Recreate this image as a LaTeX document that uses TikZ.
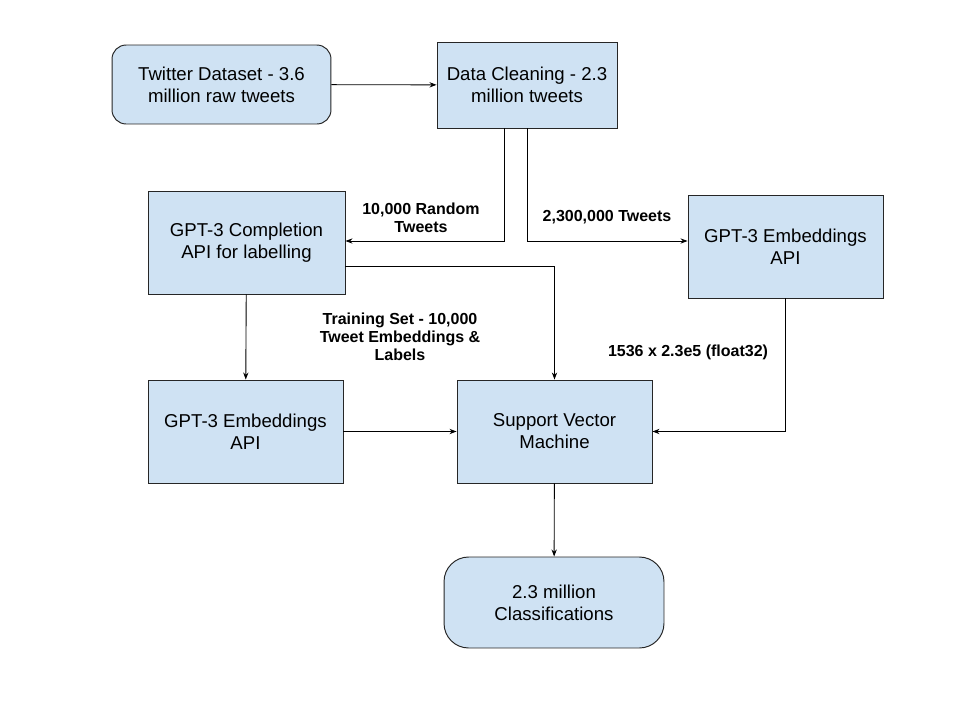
\documentclass[tikz,border=0pt]{standalone}
\usepackage{fontspec}
\setmainfont{Liberation Sans}
\usetikzlibrary{arrows.meta}

\definecolor{boxblue}{HTML}{CFE2F3}

\tikzset{
  stage/.style={draw=black!85, fill=boxblue, line width=0.55pt, align=center,
    inner sep=0pt, font=\fontsize{10.6}{12.6}\selectfont},
  flowlabel/.style={align=center, font=\bfseries\fontsize{9.1}{10.3}\selectfont},
  flow/.style={line width=0.5pt, -{Stealth[length=4pt,width=3pt]}}
}

\begin{document}
\begin{tikzpicture}[x=0.02cm, y=-0.02cm]
  \useasboundingbox (0,0) rectangle (960,720);

  \node[stage, rounded corners=8pt, minimum width=4.38cm, minimum height=1.58cm]
    (twitter) at (221.5,84.5) {Twitter Dataset - 3.6\\million raw tweets};
  \node[stage, minimum width=3.6cm, minimum height=1.72cm]
    (clean) at (527,85) {Data Cleaning - 2.3\\million tweets};
  \node[stage, minimum width=3.94cm, minimum height=2.06cm]
    (comp) at (246.5,242.5) {GPT-3 Completion\\API for labelling};
  \node[stage, minimum width=3.9cm, minimum height=2.06cm]
    (embR) at (785.5,246.5) {GPT-3 Embeddings\\API};
  \node[stage, minimum width=3.9cm, minimum height=2.06cm]
    (embL) at (245.5,431.5) {GPT-3 Embeddings\\API};
  \node[stage, minimum width=3.9cm, minimum height=2.06cm]
    (svm) at (554.5,431.5) {Support Vector\\Machine};
  \node[stage, rounded corners=14pt, minimum width=4.4cm, minimum height=1.82cm]
    (cls) at (554,602.5) {2.3 million\\Classifications};

  % edge labels
  \node[flowlabel] (lblrand) at (421,218) {10,000 Random\\Tweets};
  \node[flowlabel] (lblall) at (607,217) {2,300,000 Tweets};
  \node[flowlabel] (lbltrain) at (400,337) {Training Set - 10,000\\Tweet Embeddings \&\\Labels};
  \node[flowlabel] (lbldim) at (688,352) {1536 x 2.3e5 (float32)};

  % connectors
  \draw[flow] (twitter) -- (clean);
  \draw[flow] ([xshift=-0.46cm]clean.south) |- ([yshift=0.03cm]comp.east);
  \draw[flow] (clean.south) |- ([yshift=0.11cm]embR.west);
  \draw[flow] ([yshift=-0.47cm]comp.east) -| (svm.north);
  \draw[flow] (comp) -- (embL);
  \draw[flow] (embL) -- (svm);
  \draw[flow] (embR.south) |- (svm.east);
  \draw[flow] (svm) -- (cls);
\end{tikzpicture}
\end{document}
